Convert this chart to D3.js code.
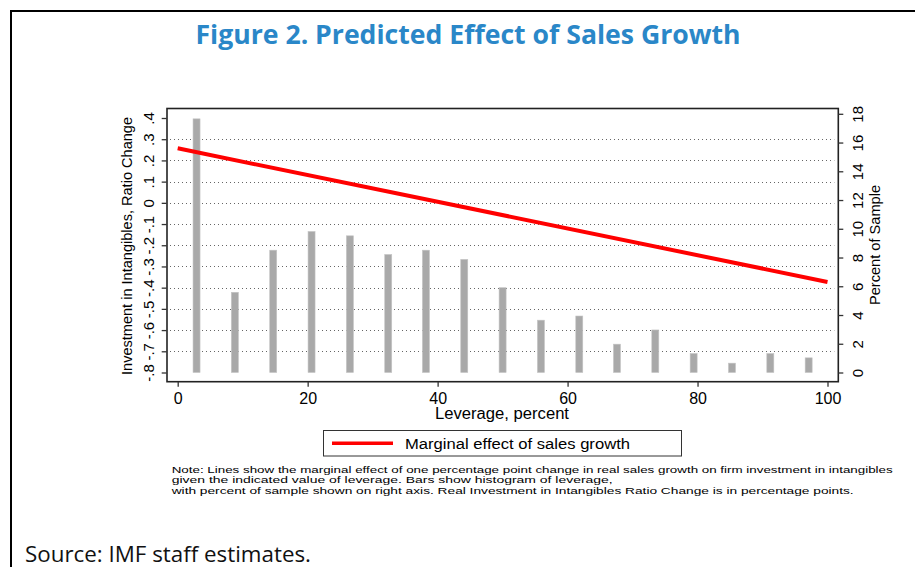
<!DOCTYPE html>
<html>
<head>
<meta charset="utf-8">
<script src="https://cdn.jsdelivr.net/npm/d3@7"></script>
<style>
  body { margin: 0; background: #fff; }
  svg { display: block; }
</style>
</head>
<body>
<div class="chart"></div>
<script>

// marginal effect line (left axis)
var leverage = [0, 100];
var marginalEffect = [0.257, -0.373];

// histogram of leverage (right axis, percent of sample)
var binMid = [2.9, 8.8, 14.7, 20.6, 26.5, 32.4, 38.2, 44.1, 50.0, 55.9, 61.8, 67.6, 73.5, 79.4, 85.3, 91.2, 97.1];
var samplePct = [17.65, 5.58, 8.51, 9.81, 9.51, 8.21, 8.51, 7.87, 5.90, 3.64, 3.93, 1.97, 2.96, 1.32, 0.65, 1.32, 1.02];

var xTicks = [0, 20, 40, 60, 80, 100];
var leftTicks = [0.4, 0.3, 0.2, 0.1, 0, -0.1, -0.2, -0.3, -0.4, -0.5, -0.6, -0.7, -0.8];
var leftTickLabels = [".4", ".3", ".2", ".1", "0", "-.1", "-.2", "-.3", "-.4", "-.5", "-.6", "-.7", "-.8"];
var rightTicks = [0, 2, 4, 6, 8, 10, 12, 14, 16, 18];

var noteLines = [
    "Note: Lines show the marginal effect of one percentage point change in real sales growth on firm investment in intangibles",
    "given the indicated value of leverage. Bars show histogram of leverage,",
    "with percent of sample shown on right axis. Real Investment in Intangibles Ratio Change is in percentage points."
];

var width = 915;
var height = 567;
var chartFont = "'Liberation Sans', Arial, sans-serif";

var svg = d3.select('.chart')
    .append('svg')
    .attr('width', width)
    .attr('height', height);

// outer frame (top and left edges only are visible)
svg.append("path")
    .attr("d", "M11,567 L11,11 L915,11")
    .attr("fill", "none")
    .attr("stroke", "#000")
    .attr("stroke-width", 2);

svg.append("text")
    .attr("x", 468)
    .attr("y", 44)
    .attr("text-anchor", "middle")
    .attr("textLength", 545)
    .attr("lengthAdjust", "spacingAndGlyphs")
    .style("font-family", "'Open Sans', 'Noto Sans', sans-serif")
    .style("font-weight", "bold")
    .style("font-size", "27px")
    .style("fill", "#2a87c8")
    .text("Figure 2. Predicted Effect of Sales Growth");

// plot region
var box = { left: 167, right: 838.3, top: 108.5, bottom: 381.7 };

var scaleX = d3.scaleLinear()
    .domain([0, 100])
    .range([177.7, 827.5]);

var scaleYL = d3.scaleLinear()
    .domain([-0.8, 0.4])
    .range([372.5, 118]);

var scaleYR = d3.scaleLinear()
    .domain([0, 18])
    .range([372.5, 113.8]);

// dotted gridlines at the inner left ticks
svg.append("g")
    .selectAll("line")
    .data(leftTicks.slice(1, -1))
    .enter()
    .append("line")
    .attr("x1", box.left + 3)
    .attr("x2", box.right - 4)
    .attr("y1", d => Math.round(scaleYL(d)) + 0.5)
    .attr("y2", d => Math.round(scaleYL(d)) + 0.5)
    .attr("stroke", "#666")
    .attr("stroke-width", 1)
    .attr("stroke-dasharray", "1,3");

// bars
var barW = 7;
svg.append("g")
    .selectAll("rect")
    .data(samplePct)
    .enter()
    .append("rect")
    .attr("x", (d, i) => scaleX(binMid[i]) - barW / 2)
    .attr("y", d => scaleYR(d))
    .attr("width", barW)
    .attr("height", d => scaleYR(0) - scaleYR(d))
    .attr("fill", "#a9a9a9")
    .attr("stroke", "#c4c4c4")
    .attr("stroke-width", 0.6);

// marginal effect line
var line = d3.line()
    .x((d, i) => scaleX(leverage[i]))
    .y(d => scaleYL(d));

svg.append("path")
    .datum(marginalEffect)
    .attr("d", line)
    .attr("fill", "none")
    .attr("stroke", "#ff0000")
    .attr("stroke-width", 4);

// plot box
svg.append("rect")
    .attr("x", box.left)
    .attr("y", box.top)
    .attr("width", box.right - box.left)
    .attr("height", box.bottom - box.top)
    .attr("fill", "none")
    .attr("stroke", "#222")
    .attr("stroke-width", 1.6);

// axes
function styleAxis(g) {
    g.select(".domain").remove();
    g.selectAll(".tick line").attr("stroke", "#333").attr("stroke-width", 1.3);
    g.selectAll("text").style("font-family", chartFont).style("fill", "#000");
}

var axisX = d3.axisBottom(scaleX).tickValues(xTicks).tickSize(5).tickSizeOuter(0);
svg.append("g")
    .attr("transform", "translate(0," + box.bottom + ")")
    .call(axisX)
    .call(styleAxis)
    .selectAll("text")
    .attr("y", 22.3)
    .attr("dy", null)
    .style("font-size", "16px");

var axisYL = d3.axisLeft(scaleYL)
    .tickValues(leftTicks)
    .tickFormat((d, i) => leftTickLabels[i])
    .tickSize(5)
    .tickSizeOuter(0);
svg.append("g")
    .attr("transform", "translate(" + (box.left - 0.3) + ",0)")
    .call(axisYL)
    .call(styleAxis)
    .selectAll("text")
    .attr("x", null)
    .attr("dy", null)
    .attr("text-anchor", "middle")
    .attr("transform", "translate(-12.7,0) rotate(-90)")
    .style("font-size", "15px");

var axisYR = d3.axisRight(scaleYR)
    .tickValues(rightTicks)
    .tickSize(5)
    .tickSizeOuter(0);
svg.append("g")
    .attr("transform", "translate(" + box.right + ",0)")
    .call(axisYR)
    .call(styleAxis)
    .selectAll("text")
    .attr("x", null)
    .attr("dy", null)
    .attr("text-anchor", "middle")
    .attr("transform", "translate(24.4,0) rotate(-90)")
    .style("font-size", "15px");

// axis titles
svg.append("text")
    .attr("transform", "translate(132,246) rotate(-90)")
    .attr("text-anchor", "middle")
    .attr("textLength", 258)
    .attr("lengthAdjust", "spacingAndGlyphs")
    .style("font-family", chartFont)
    .style("font-size", "15px")
    .text("Investment in Intangibles, Ratio Change");

svg.append("text")
    .attr("transform", "translate(880,245) rotate(-90)")
    .attr("text-anchor", "middle")
    .attr("textLength", 120)
    .attr("lengthAdjust", "spacingAndGlyphs")
    .style("font-family", chartFont)
    .style("font-size", "15px")
    .text("Percent of Sample");

svg.append("text")
    .attr("x", 502)
    .attr("y", 418.5)
    .attr("text-anchor", "middle")
    .attr("textLength", 134)
    .attr("lengthAdjust", "spacingAndGlyphs")
    .style("font-family", chartFont)
    .style("font-size", "16px")
    .text("Leverage, percent");

// legend
var legend = svg.append("g");
legend.append("rect")
    .attr("x", 323.5)
    .attr("y", 430.5)
    .attr("width", 358)
    .attr("height", 25.5)
    .attr("fill", "#fff")
    .attr("stroke", "#333")
    .attr("stroke-width", 1);
legend.append("line")
    .attr("x1", 332)
    .attr("x2", 393)
    .attr("y1", 443.3)
    .attr("y2", 443.3)
    .attr("stroke", "#ff0000")
    .attr("stroke-width", 3.5);
legend.append("text")
    .attr("x", 405)
    .attr("y", 449.3)
    .attr("textLength", 225)
    .attr("lengthAdjust", "spacingAndGlyphs")
    .style("font-family", chartFont)
    .style("font-size", "15.5px")
    .text("Marginal effect of sales growth");

// note
var noteWidths = [721, 441, 682];
svg.append("g")
    .selectAll("text")
    .data(noteLines)
    .enter()
    .append("text")
    .attr("x", 171.7)
    .attr("y", (d, i) => 472.5 + i * 10.6)
    .attr("textLength", (d, i) => noteWidths[i])
    .attr("lengthAdjust", "spacingAndGlyphs")
    .style("font-family", chartFont)
    .style("font-size", "9.5px")
    .text(d => d);

svg.append("text")
    .attr("x", 25)
    .attr("y", 562)
    .attr("textLength", 286)
    .attr("lengthAdjust", "spacingAndGlyphs")
    .style("font-family", "'Open Sans', 'Noto Sans', sans-serif")
    .style("font-size", "22px")
    .style("fill", "#111")
    .text("Source: IMF staff estimates.");

</script>
</body>
</html>
